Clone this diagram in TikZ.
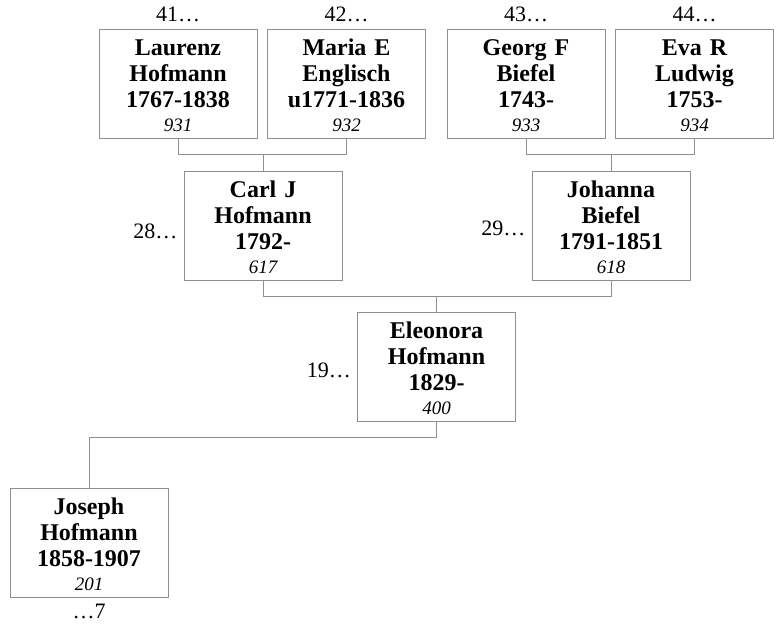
\documentclass[tikz,border=0pt]{standalone}
\usepackage{fontspec}
\setmainfont{Liberation Serif}
\definecolor{linegray}{HTML}{8F8F8F}
\newcommand\persontext[4]{\rule{0pt}{20pt}#1\\#2\\#3\\[-2pt]{\fontsize{19}{20}\selectfont\mdseries\itshape #4}}
\tikzset{
  person/.style={draw=linegray, line width=1pt, minimum width=158pt, minimum height=109pt,
    inner sep=0pt, text width=156pt, align=center, font=\fontsize{24}{26}\selectfont\bfseries},
  lbl/.style={inner sep=0pt, font=\fontsize{22}{24}\selectfont},
  conn/.style={draw=linegray, line width=1pt}
}
\begin{document}
\begin{tikzpicture}[x=1pt,y=-1pt]
\useasboundingbox (0,0) rectangle (778,626);
% boxes
\node[person] (L)  at (178,83.8)   {\persontext{Laurenz}{Hofmann}{1767-1838}{931}};
\node[person] (M)  at (346.5,83.8) {\persontext{Maria E}{Englisch}{u1771-1836}{932}};
\node[person] (G)  at (526,83.8)   {\persontext{Georg F}{Biefel}{1743-}{933}};
\node[person] (Ev) at (694.5,83.8) {\persontext{Eva R}{Ludwig}{1753-}{934}};
\node[person] (C)  at (263,225.5)  {\persontext{Carl J}{Hofmann}{1792-}{617}};
\node[person] (Jh) at (611,225.5)  {\persontext{Johanna}{Biefel}{1791-1851}{618}};
\node[person] (El) at (436.5,367)  {\persontext{Eleonora}{Hofmann}{1829-}{400}};
\node[person] (Jo) at (89,542.5)   {\persontext{Joseph}{Hofmann}{1858-1907}{201}};
% labels
\node[lbl, anchor=base, yshift=7pt] (n41) at (L.north)  {41…};
\node[lbl, anchor=base, yshift=7pt] (n42) at (M.north)  {42…};
\node[lbl, anchor=base, yshift=7pt] (n43) at (G.north)  {43…};
\node[lbl, anchor=base, yshift=7pt] (n44) at (Ev.north) {44…};
\node[lbl, anchor=base east, xshift=-6pt, yshift=-12.5pt] (n28) at (C.west)  {28…};
\node[lbl, anchor=base east, xshift=-6pt, yshift=-9.5pt]  (n29) at (Jh.west) {29…};
\node[lbl, anchor=base east, xshift=-6pt, yshift=-10pt]   (n19) at (El.west) {19…};
\node[lbl, anchor=base, yshift=-21pt] (n7) at (Jo.south) {…7};
% connectors
\draw[conn] (L.south) -- ++(0,16) -| (M.south);
\draw[conn] (C.north) -- ++(0,-16.5);
\draw[conn] (G.south) -- ++(0,16) -| (Ev.south);
\draw[conn] (Jh.north) -- ++(0,-16.5);
\draw[conn] (C.south) -- ++(0,16) -| (Jh.south);
\draw[conn] (El.north) -- ++(0,-16);
\draw[conn] (El.south) -- ++(0,15.5) -| (Jo.north);
\end{tikzpicture}
\end{document}
